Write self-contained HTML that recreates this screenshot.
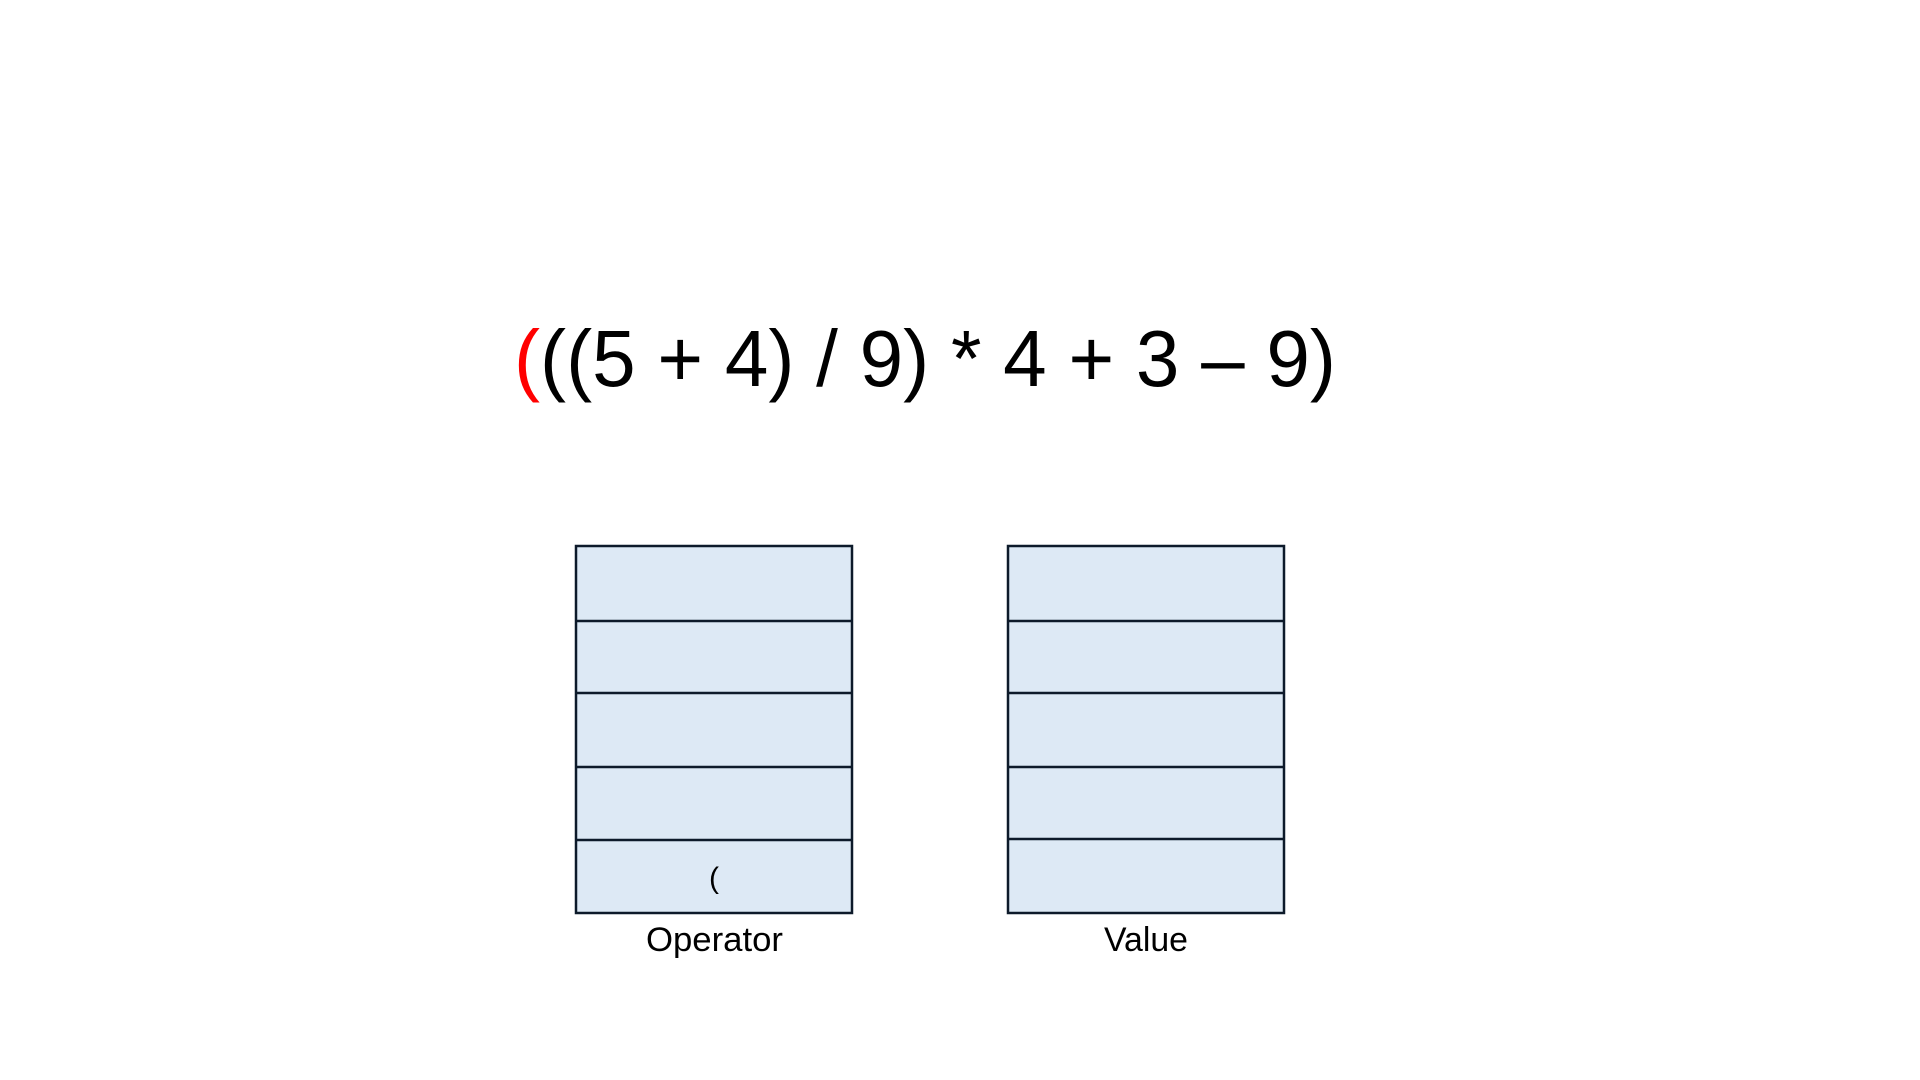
<!DOCTYPE html>
<html><head><meta charset="utf-8"><style>
html,body{margin:0;padding:0;background:#fff;width:1920px;height:1080px;overflow:hidden}
</style></head><body>
<svg width="1920" height="1080" xmlns="http://www.w3.org/2000/svg" font-family="Liberation Sans, sans-serif">
<text x="514" y="386" font-size="80" textLength="822" lengthAdjust="spacingAndGlyphs"><tspan fill="#ff0000">(</tspan><tspan fill="#000">((5 + 4) / 9) * 4 + 3 – 9)</tspan></text>
<g fill="#dde9f5" stroke="#0d1a2a" stroke-width="2.5">
<rect x="576" y="546" width="276" height="367"/>
<line x1="576" y1="621" x2="852" y2="621"/><line x1="576" y1="693" x2="852" y2="693"/>
<line x1="576" y1="767" x2="852" y2="767"/><line x1="576" y1="840" x2="852" y2="840"/>
<rect x="1008" y="546" width="276" height="367"/>
<line x1="1008" y1="621" x2="1284" y2="621"/><line x1="1008" y1="693" x2="1284" y2="693"/>
<line x1="1008" y1="767" x2="1284" y2="767"/><line x1="1008" y1="839" x2="1284" y2="839"/>
</g>
<text x="714" y="888" font-size="30" text-anchor="middle" fill="#000">(</text>
<text x="646" y="951" font-size="34" textLength="137" lengthAdjust="spacingAndGlyphs" fill="#000">Operator</text>
<text x="1104" y="951" font-size="34" textLength="84" lengthAdjust="spacingAndGlyphs" fill="#000">Value</text>
</svg>
</body></html>
